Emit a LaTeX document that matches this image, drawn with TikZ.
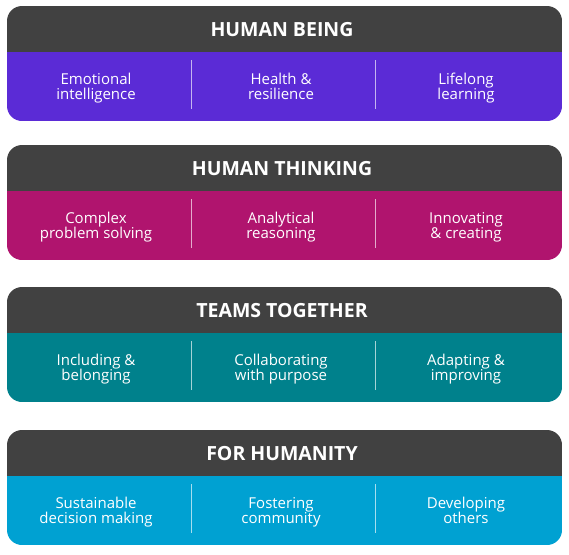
\documentclass[tikz,border=0pt]{standalone}
\usepackage{fontspec}
\setmainfont{Open Sans}
\usetikzlibrary{positioning}
\definecolor{hdrgray}{RGB}{65,65,65}
\definecolor{beingcol}{RGB}{91,43,214}
\definecolor{thinkcol}{RGB}{176,20,110}
\definecolor{teamcol}{RGB}{0,129,140}
\definecolor{humancol}{RGB}{0,161,210}
\tikzset{
  ttl/.style={text=white,font=\fontsize{19.5}{20}\selectfont\bfseries,inner sep=0pt,anchor=base},
  cell/.style={text=white,font=\fontsize{15}{15}\selectfont,align=center,inner sep=0pt,
    text height=26pt,text depth=4pt},
  divline/.style={white,opacity=0.65,line width=0.8pt}
}
\begin{document}
\begin{tikzpicture}[x=1pt,y=-1pt]
  \useasboundingbox (0,0) rectangle (569,554);
  \foreach \top/\name/\col/\ca/\cb/\cc [count=\n] in {
      6/HUMAN BEING/beingcol/{Emotional\\intelligence}/{Health \&\\resilience}/{Lifelong\\learning},
      145/HUMAN THINKING/thinkcol/{Complex\\problem solving}/{Analytical\\reasoning}/{Innovating\\\& creating},
      287/TEAMS TOGETHER/teamcol/{Including \&\\belonging}/{Collaborating\\with purpose}/{Adapting \&\\improving},
      430/FOR HUMANITY/humancol/{Sustainable\\decision making}/{Fostering\\community}/{Developing\\others}}
  {
    \begin{scope}[shift={(0,\top)}]
      % block outline, header over body
      \begin{scope}
        \clip[rounded corners=15pt] (7,0) rectangle (562,115);
        \fill[\col] (7,46) rectangle (562,115);
        \fill[hdrgray] (7,0) rectangle (562,46);
      \end{scope}
      \node[ttl] (t\n) at (282,30) {\name};
      \node[cell] (a\n) at (96,82.3) {\ca};
      \node[cell] (b\n) at (281,82.3) {\cb};
      \node[cell] (c\n) at (466,82.3) {\cc};
      % column dividers
      \coordinate (d\n a) at (191,54); \coordinate (e\n a) at (191,103);
      \coordinate (d\n b) at (375,54); \coordinate (e\n b) at (375,103);
      \draw[divline] (d\n a) -- (e\n a);
      \draw[divline] (d\n b) -- (e\n b);
    \end{scope}
  }
\end{tikzpicture}
\end{document}
